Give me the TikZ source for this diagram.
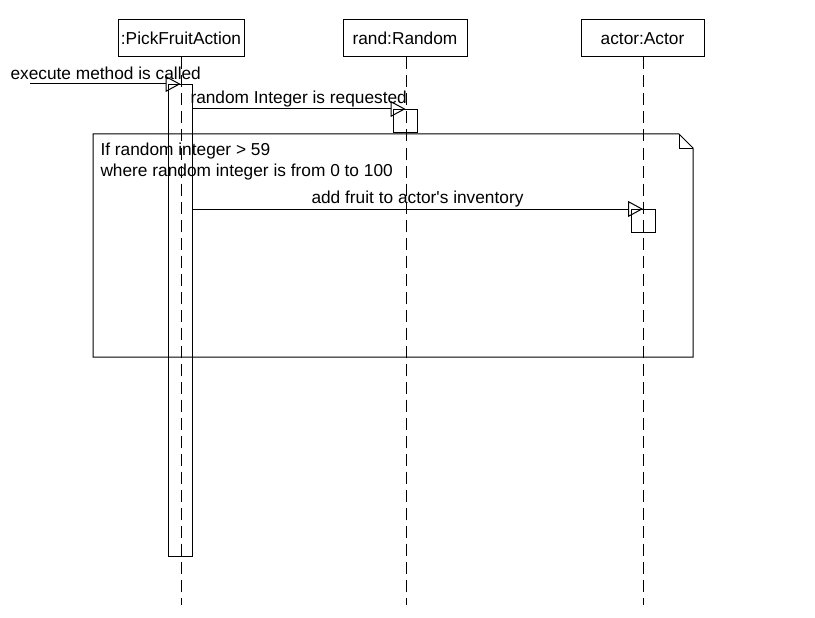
\documentclass[tikz,border=0pt]{standalone}
\usepackage{fontspec}
\setmainfont{Liberation Sans}[Ligatures=TeXOff]
\usetikzlibrary{arrows.meta}
\begin{document}
\begin{tikzpicture}[x=1pt,y=-1pt,line width=1pt,
  every node/.style={font=\fontsize{17.3}{20}\selectfont},
  hdr/.style={draw,minimum height=37pt,inner sep=0pt},
  actbox/.style={draw,minimum width=24pt,inner sep=0pt,anchor=north},
  life/.style={dash pattern=on 12pt off 6pt},
  msg/.style={-{Triangle[open,length=15pt,width=16pt]}},
  lbl/.style={anchor=base west,inner sep=0pt}]
\useasboundingbox (0,0) rectangle (815,618);
% headers
\node[hdr,minimum width=126pt] (pfa) at (181,38.5) {:PickFruitAction};
\node[hdr,minimum width=124pt] (rnd) at (405,38.5) {rand:Random};
\node[hdr,minimum width=123pt] (act) at (642.5,38.5) {actor:Actor};
% lifeline ends
\coordinate (pfaend) at (181,605);
\coordinate (rndend) at (406,605);
\coordinate (actend) at (643,605);
\draw[life] (pfa.south -| pfaend) -- (pfaend);
\draw[life] (rnd.south -| rndend) -- (rndend);
\draw[life] (act.south -| actend) -- (actend);
% activations
\node[actbox,minimum height=472pt] (a1) at (180.5,84) {};
\node[actbox,minimum height=23pt] (a2) at (405.5,109) {};
\node[actbox,minimum height=23pt] (a3) at (643,209) {};
% note
\draw (93,134) -- (679,134) -- (693,148) -- (693,357) -- (93,357) -- cycle;
\draw (679,134) -- (679,148) -- (693,148);
\node[lbl] (n1) at (100,156) {If random integer > 59};
\node[lbl] (n2) at (100,176) {where random integer is from 0 to 100};
% messages
\coordinate (exstart) at (30,84);
\draw[msg] (exstart) -- (a1.north);
\node[lbl] (l1) at (10,80) {execute method is called};
\draw[msg] (a2.north -| a1.east) -- (a2.north);
\node[lbl] (l2) at (190,103) {random Integer is requested};
\draw[msg] (a3.north -| a1.east) -- (a3.north);
\node[lbl] (l3) at (311,204) {add fruit to actor's inventory};
\end{tikzpicture}
\end{document}
